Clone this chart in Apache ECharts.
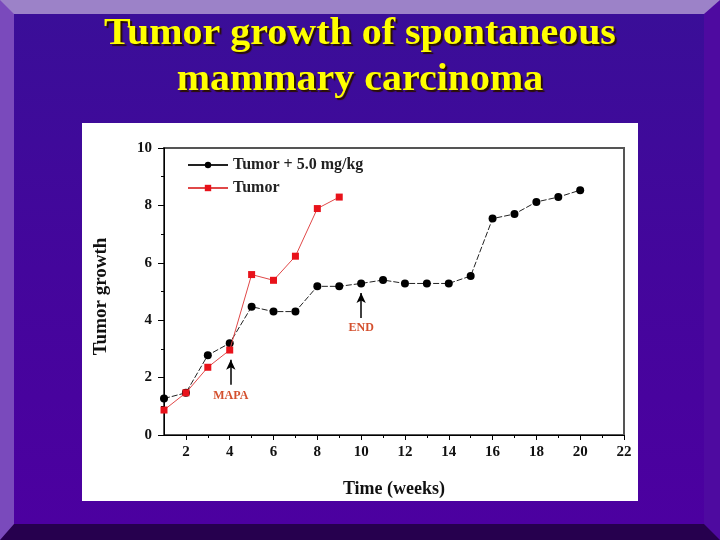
<!DOCTYPE html>
<html>
<head>
<meta charset="utf-8">
<script src="https://cdn.jsdelivr.net/npm/echarts@6/dist/echarts.min.js"></script>
<style>
  html, body { margin: 0; padding: 0; }
  #frame {
    position: absolute; left: 0; top: 0; width: 720px; height: 540px;
    box-sizing: border-box;
    border-style: solid;
    border-width: 14px 16px 16px 14px;
    border-top-color: #9c82c8;
    border-left-color: #7a4abc;
    border-right-color: #4e0aa0;
    border-bottom-color: #26004e;
    background: linear-gradient(to bottom, #3a0e98 0%, #44069c 50%, #4c00a0 100%);
  }
  #panel {
    position: absolute; left: 82px; top: 123px; width: 556px; height: 378px;
    background: #ffffff;
  }
  #chart { position: absolute; left: 0; top: 0; width: 720px; height: 540px; }
</style>
</head>
<body>
<div id="frame"></div>
<div id="panel"></div>
<div id="chart"></div>
<script>
// ---- data ----
const weeksTreated = [1,2,3,4,5,6,7,8,9,10,11,12,13,14,15,16,17,18,19,20];
const treatedValues = [1.27,1.47,2.78,3.2,4.47,4.3,4.3,5.18,5.18,5.28,5.4,5.28,5.28,5.28,5.54,7.54,7.7,8.12,8.29,8.53];
const weeksControl = [1,2,3,4,5,6,7,8,9];
const controlValues = [0.87,1.47,2.36,2.96,5.59,5.39,6.23,7.89,8.29];
const xMajorTicks = [2,4,6,8,10,12,14,16,18,20,22];
const xMinorTicks = [3,5,7,9,11,13,15,17,19,21];
const seriesNames = ['Tumor + 5.0 mg/kg', 'Tumor'];
const titleLines = ['Tumor growth of spontaneous', 'mammary carcinoma'];
const xName = 'Time (weeks)';
const yName = 'Tumor growth';
const annotations = [
  { text: 'MAPA', x: 4.05, y: 1.36, arrowFrom: 1.75, arrowTo: 2.62 },
  { text: 'END', x: 10, y: 3.73, arrowFrom: 4.08, arrowTo: 4.95 }
];

const serif = 'Liberation Serif, DejaVu Serif, serif';
const chart = echarts.init(document.getElementById('chart'), null, { renderer: 'canvas' });

const titleStyle = (t) => ({
  text: t,
  font: 'bold 37px "Liberation Serif", serif',
  fill: '#ffff00',
  align: 'center',
  verticalAlign: 'top',
  textShadowColor: '#2a1000',
  textShadowOffsetX: 2,
  textShadowOffsetY: 2,
  textShadowBlur: 1
});

const option = {
  backgroundColor: 'transparent',
  animation: false,
  graphic: [
    { type: 'text', x: 360, y: 16, scaleX: 1.08, style: titleStyle(titleLines[0]) },
    { type: 'text', x: 360, y: 62, scaleX: 1.08, style: titleStyle(titleLines[1]) }
  ],
  legend: {
    orient: 'vertical',
    left: 187, top: 157, padding: 0,
    itemWidth: 40, itemHeight: 8, itemGap: 7,
    lineStyle: { type: 'solid' },
    textStyle: { fontFamily: serif, fontWeight: 'bold', fontSize: 16, color: '#222' },
    data: seriesNames
  },
  grid: {
    left: 164, right: 96, top: 148, bottom: 105,
    show: true, borderColor: '#555', borderWidth: 2, backgroundColor: 'transparent'
  },
  xAxis: [{
    type: 'value', min: 1, max: 22, interval: 1,
    name: xName, nameLocation: 'middle', nameGap: 45,
    nameTextStyle: { fontFamily: serif, fontWeight: 'bold', fontSize: 18, color: '#111' },
    axisLine: { show: true, lineStyle: { color: '#000', width: 1 } },
    axisTick: { show: true, length: 5, customValues: xMajorTicks, lineStyle: { color: '#000' } },
    axisLabel: { customValues: xMajorTicks, fontFamily: serif, fontWeight: 'bold', fontSize: 15, color: '#111', margin: 10 },
    splitLine: { show: false }
  }, {
    type: 'value', min: 1, max: 22, interval: 1, position: 'bottom',
    axisLine: { show: false },
    axisTick: { show: true, length: 3, customValues: xMinorTicks, lineStyle: { color: '#000' } },
    axisLabel: { show: false },
    splitLine: { show: false }
  }],
  yAxis: {
    type: 'value', min: 0, max: 10, interval: 2,
    name: yName, nameLocation: 'middle', nameGap: 53, nameRotate: 90,
    nameTextStyle: { fontFamily: serif, fontWeight: 'bold', fontSize: 19, color: '#111', padding: [0, 10, 0, 0] },
    axisLine: { show: true, lineStyle: { color: '#000', width: 1 } },
    axisTick: { show: true, length: 6, lineStyle: { color: '#000' } },
    minorTick: { show: true, splitNumber: 2, length: 3, lineStyle: { color: '#000' } },
    axisLabel: { fontFamily: serif, fontWeight: 'bold', fontSize: 15, color: '#111', margin: 12 },
    splitLine: { show: false }
  },
  series: [{
    name: seriesNames[0], type: 'line', xAxisIndex: 0,
    data: weeksTreated.map((w, i) => [w, treatedValues[i]]),
    symbol: 'circle', symbolSize: 8,
    itemStyle: { color: '#000' },
    lineStyle: { color: '#222', width: 1, type: [6, 2] },
    z: 2,
    markLine: {
      silent: true, symbol: ['none', 'arrow'], symbolSize: [7, 10],
      lineStyle: { color: '#000', width: 1.5, type: 'solid' },
      label: { show: false },
      data: annotations.map(a => [{ coord: [a.x, a.arrowFrom] }, { coord: [a.x, a.arrowTo] }])
    },
    markPoint: {
      silent: true, symbol: 'circle', symbolSize: 1,
      itemStyle: { color: 'rgba(0,0,0,0)' },
      label: { show: true, position: 'inside', fontFamily: serif, fontWeight: 'bold', fontSize: 12, color: '#d4502e' },
      data: annotations.map(a => ({ coord: [a.x, a.y], value: a.text, label: { formatter: a.text } }))
    }
  }, {
    name: seriesNames[1], type: 'line', xAxisIndex: 0,
    data: weeksControl.map((w, i) => [w, controlValues[i]]),
    symbol: 'rect', symbolSize: 7,
    itemStyle: { color: '#e8121a' },
    lineStyle: { color: '#e04848', width: 1 },
    z: 3
  }]
};
chart.setOption(option);
</script>
</body>
</html>
